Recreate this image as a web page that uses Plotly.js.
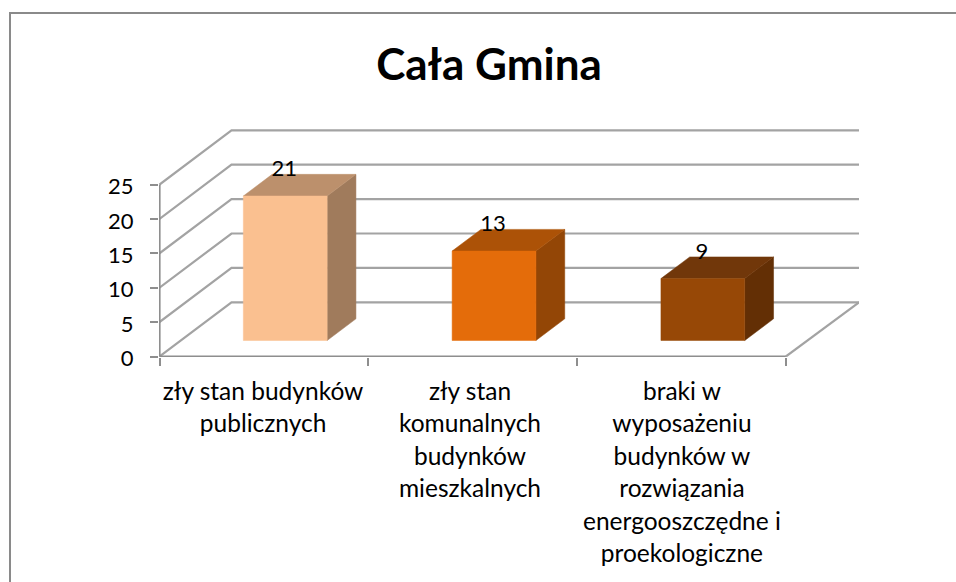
<!DOCTYPE html>
<html>
<head>
<meta charset="utf-8">
<script src="https://cdn.plot.ly/plotly-3.0.1.min.js"></script>
<style>html,body{margin:0;padding:0;background:#fff}</style>
</head>
<body>
<div id="chart" style="width:956px;height:582px"></div>
<script>
const titleText = 'Cała Gmina';
const categories = [
  'zły stan budynków<br>publicznych',
  'zły stan<br>komunalnych<br>budynków<br>mieszkalnych',
  'braki w<br>wyposażeniu<br>budynków w<br>rozwiązania<br>energooszczędne i<br>proekologiczne'
];
const labelCenters = [0.496, 1.487, 2.502];
const values = [21, 13, 9];
const yTicks = [0, 5, 10, 15, 20, 25];
const frontColors = ['#FAC090', '#E46C0A', '#974806'];
const topColors = ['#BC906C', '#AC5207', '#71370A'];
const sideColors = ['#A07B5C', '#934606', '#632F05'];

const W = 956, H = 582;
const left = 159, right = 859, top_ = 129, bottom = 357;
const catPx = 208.8, valPx = 6.88;
const x0 = -0.5 / catPx, y0 = -0.5 / valPx;
const xMax = x0 + (right - left) / catPx, yMax = y0 + (bottom - top_) / valPx;
const depthX = 72 / catPx, depthY = 54.2 / valPx;   // oblique depth of the floor
const barOffset = 62.6 / catPx, barWidth = 83.8 / catPx;
const z0 = 0.295, z1 = 0.695;                       // bar's depth span on the floor
const fontName = 'Lato, Carlito, sans-serif';
const labelFont = 24.5, numberFont = 22, wantedLine = 32.5;
const gridColor = '#a3a3a3', axisColor = '#8e8e8e';

const proj = (c, v, z) => [c + z * depthX, v + z * depthY];
function poly(pts, color) {
  const closed = pts.concat([pts[0]]);
  return {
    type: 'scatter', mode: 'lines', x: closed.map(p => p[0]), y: closed.map(p => p[1]),
    fill: 'toself', fillcolor: color, line: {color: color, width: 0.5},
    hoverinfo: 'skip', showlegend: false, cliponaxis: false
  };
}
function line(pts, color, width) {
  return {
    type: 'scatter', mode: 'lines', x: pts.map(p => p[0]), y: pts.map(p => p[1]),
    line: {color: color, width: width}, hoverinfo: 'skip', showlegend: false, cliponaxis: false
  };
}

const traces = [];
// walls: gridlines run from the front axis to the back corner and along the back wall
yTicks.forEach(v => {
  traces.push(line([[0, v], [depthX, depthY + v], [xMax, depthY + v]], gridColor, 2.2));
});
// floor
traces.push(line([[3, 0], [xMax, depthY]], gridColor, 2.2));
// axes
traces.push(line([[0, 0], [0, 25]], axisColor, 2.2));
traces.push(line([[0, 0], [3, 0]], axisColor, 2.2));

// bars
values.forEach((v, i) => {
  const a = i + barOffset, b = a + barWidth;
  traces.push(poly([proj(b, 0, z0), proj(b, 0, z1), proj(b, v, z1), proj(b, v, z0)], sideColors[i]));
  traces.push(poly([proj(a, v, z0), proj(b, v, z0), proj(b, v, z1), proj(a, v, z1)], topColors[i]));
  traces.push(poly([proj(a, 0, z0), proj(b, 0, z0), proj(b, v, z0), proj(a, v, z0)], frontColors[i]));
});

// value labels
traces.push({
  type: 'scatter', mode: 'text',
  x: values.map((v, i) => proj(i + barOffset + barWidth / 2, v, z0)[0] - 1 / catPx),
  y: values.map((v, i) => proj(0, v, z0)[1] + 25.5 / valPx),
  text: values.map(String), textposition: 'middle center',
  textfont: {family: fontName, size: numberFont, color: '#000'},
  hoverinfo: 'skip', showlegend: false, cliponaxis: false
});

const layout = {
  width: W, height: H, autosize: false,
  margin: {l: left, r: W - right, t: top_, b: H - bottom, pad: 0},
  paper_bgcolor: '#fff', plot_bgcolor: 'rgba(0,0,0,0)', showlegend: false,
  title: {
    text: '<b>' + titleText + '</b>', x: 489 / W, xref: 'container', xanchor: 'center',
    y: 1 - 65 / H, yref: 'container', yanchor: 'middle',
    font: {family: fontName, size: 44, color: '#000'}
  },
  xaxis: {
    range: [x0, xMax], showgrid: false, zeroline: false, showline: false,
    tickmode: 'array', tickvals: labelCenters, ticktext: categories,
    ticks: '', tickangle: 0, ticklabelstandoff: 17,
    tickfont: {family: fontName, size: labelFont, color: '#000'},
    minor: {tickmode: 'array', tickvals: [0, 1, 2, 3], ticks: 'outside', ticklen: 8, tickwidth: 2, tickcolor: axisColor, showgrid: false}
  },
  yaxis: {
    range: [y0, yMax], showgrid: false, zeroline: false, showline: false,
    tickmode: 'array', tickvals: yTicks, ticktext: yTicks.map(String),
    ticks: 'outside', ticklen: 8, tickwidth: 2, tickcolor: axisColor, ticklabelstandoff: 12, ticklabelshift: 2,
    tickfont: {family: fontName, size: numberFont, color: '#000'}
  },
  shapes: [{
    type: 'path', xref: 'paper', yref: 'paper', layer: 'below',
    path: 'M ' + ((10 - left) / (right - left)) + ' ' + ((bottom - 600) / (bottom - top_)) +
          ' L ' + ((10 - left) / (right - left)) + ' ' + ((bottom - 13) / (bottom - top_)) +
          ' L ' + ((970 - left) / (right - left)) + ' ' + ((bottom - 13) / (bottom - top_)),
    line: {color: '#8a8a8a', width: 2}
  }]
};

Plotly.newPlot('chart', traces, layout, {displayModeBar: false, staticPlot: true}).then(() => {
  const factor = wantedLine / (1.3 * labelFont);
  document.querySelectorAll('.xtick text tspan.line').forEach(t => {
    const dy = parseFloat(t.getAttribute('dy') || '0');
    if (dy) t.setAttribute('dy', (dy * factor) + 'em');
  });
});
</script>
</body>
</html>
